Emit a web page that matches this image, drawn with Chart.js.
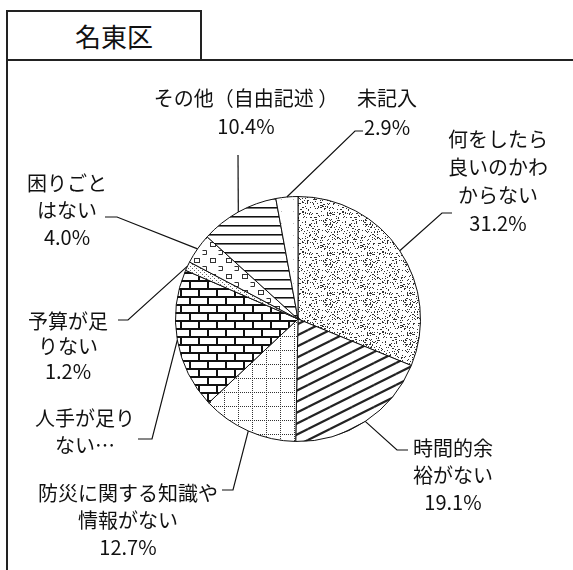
<!DOCTYPE html>
<html lang="ja">
<head>
<meta charset="utf-8">
<title>名東区</title>
<script src="https://cdn.jsdelivr.net/npm/chart.js@4.4.1/dist/chart.umd.min.js"></script>
<style>
  html, body { margin: 0; padding: 0; background: #fff; }
  body { width: 573px; height: 570px; position: relative; overflow: hidden;
         font-family: "Noto Sans CJK JP", "Noto Sans", sans-serif; }
  .frame { position: absolute; left: 6px; top: 59px; width: 620px; height: 600px;
           border-left: 2px solid #222; border-top: 2px solid #222; }
  .title { position: absolute; left: 6px; top: 10px; width: 172px; height: 47px; padding-left: 20px;
           border: 2px solid #222; background: #fff; text-align: center; line-height: 47px;
           font-size: 26px; color: #111; }
  #pie { position: absolute; left: 0; top: 0; }
</style>
</head>
<body>
<div class="frame"></div>
<div class="title">名東区</div>
<canvas id="pie" width="573" height="570"></canvas>

<script>
// data (clockwise from 12 o'clock)
const categories = ['何をしたら良いのかわからない', '時間的余裕がない', '防災に関する知識や情報がない',
  '人手が足りない', '予算が足りない', '困りごとはない', 'その他（自由記述）', '未記入'];
const values = [31.2, 19.1, 12.7, 18.5, 1.2, 4.0, 10.4, 2.9];
const labelLines = [
  ['何をしたら', '良いのかわ', 'からない'],
  ['時間的余', '裕がない'],
  ['防災に関する知識や', '情報がない'],
  ['人手が足り', 'ない…'],
  ['予算が足', 'りない'],
  ['困りごと', 'はない'],
  ['その他（自由記述 ）'],
  ['未記入']
];

// where each label and its leader line sit on the page
const labelPos = [
  { x: 498, y: 139, step: 28, elbow: [442, 213], end: [452, 213] },
  { x: 453, y: 448, step: 27, elbow: [397, 450], end: [408, 450] },
  { x: 128, y: 493, step: 27, elbow: [233, 490], end: [222, 490] },
  { x: 85,  y: 418, step: 27, elbow: [152, 439], end: [138, 439], pct: false },
  { x: 68,  y: 321, step: 25, elbow: [128, 320], end: [118, 320] },
  { x: 67,  y: 183, step: 27, elbow: [117, 217], end: [105, 217] },
  { x: 246, y: 98,  step: 28, elbow: [238, 155] },
  { x: 387, y: 98,  step: 29, elbow: [355, 131], end: [363, 131] }
];

function tile(w, h, paint) {
  const c = document.createElement('canvas');
  c.width = w;
  c.height = h;
  const g = c.getContext('2d');
  g.fillStyle = '#fff';
  g.fillRect(0, 0, w, h);
  paint(g, w, h);
  return g.createPattern(c, 'repeat');
}

// gray stipple
const stipple = tile(40, 40, (g, w, h) => {
  g.fillStyle = '#333';
  for (let y = 0; y < h; y++) {
    for (let x = 0; x < w; x++) {
      const v = Math.sin(x * 12.9898 + y * 78.233) * 43758.5453;
      if (v - Math.floor(v) < 0.17) g.fillRect(x, y, 1, 1);
    }
  }
});

// shallow "/" hatch
const hatch = tile(22, 11, (g, w, h) => {
  g.strokeStyle = '#222';
  g.lineWidth = 2.2;
  for (const dx of [-w, 0, w]) {
    for (const dy of [-h, 0, h]) {
      g.beginPath();
      g.moveTo(dx, h + dy);
      g.lineTo(w + dx, dy);
      g.stroke();
    }
  }
});

// dotted grid
const grid = tile(14, 14, (g, w, h) => {
  g.fillStyle = '#333';
  for (let i = 0; i < w; i += 2) g.fillRect(i, 0, 1, 1);
  for (let j = 0; j < h; j += 2) g.fillRect(0, j, 1, 1);
});

// bricks
const brick = tile(18, 16, (g) => {
  g.fillStyle = '#111';
  g.fillRect(0, 0, 18, 2);
  g.fillRect(0, 8, 18, 2);
  g.fillRect(0, 0, 2, 8);
  g.fillRect(9, 8, 2, 8);
});

// light dots
const lightDots = tile(4, 4, (g) => {
  g.fillStyle = '#666';
  g.fillRect(0, 0, 1, 1);
  g.fillRect(2, 2, 1, 1);
});

// small glyph-like marks
const marks = tile(16, 16, (g) => {
  g.strokeStyle = '#333';
  g.lineWidth = 1;
  g.strokeRect(2.5, 2.5, 5, 4);
  g.beginPath();
  g.moveTo(10.5, 10.5); g.lineTo(14.5, 10.5); g.lineTo(14.5, 14.5); g.lineTo(10.5, 14.5);
  g.stroke();
});

// horizontal lines
const hlines = tile(8, 9, (g) => {
  g.fillStyle = '#111';
  g.fillRect(0, 0, 8, 1);
  g.fillStyle = '#777';
  g.fillRect(0, 1, 8, 1);
});

// nearly white
const blank = tile(12, 12, (g) => {
  g.fillStyle = '#bbb';
  g.fillRect(5, 7, 1, 1);
});

const patterns = [stipple, hatch, grid, brick, lightDots, marks, hlines, blank];

const leaderLabels = {
  id: 'leaderLabels',
  afterDatasetsDraw(chart) {
    const g = chart.ctx;
    const arcs = chart.getDatasetMeta(0).data;
    g.save();
    g.strokeStyle = '#111';
    g.lineWidth = 1.2;
    g.fillStyle = '#111';
    g.font = '20px "Noto Sans CJK JP"';
    g.textAlign = 'center';
    g.textBaseline = 'middle';
    arcs.forEach((arc, i) => {
      const p = arc.getProps(['x', 'y', 'startAngle', 'endAngle', 'outerRadius'], true);
      const mid = (p.startAngle + p.endAngle) / 2;
      const L = labelPos[i];
      g.beginPath();
      g.moveTo(p.x + Math.cos(mid) * p.outerRadius, p.y + Math.sin(mid) * p.outerRadius);
      g.lineTo(L.elbow[0], L.elbow[1]);
      if (L.end) g.lineTo(L.end[0], L.end[1]);
      g.stroke();
      const lines = labelLines[i].slice();
      if (L.pct !== false) lines.push(values[i].toFixed(1) + '%');
      lines.forEach((t, k) => g.fillText(t, L.x, L.y + k * L.step));
    });
    g.restore();
  }
};

const drawChart = function () {
  const ctx = document.getElementById('pie').getContext('2d');
  new Chart(ctx, {
    type: 'pie',
    data: {
      labels: categories,
      datasets: [{
        data: values,
        backgroundColor: patterns,
        borderColor: '#111',
        borderWidth: 1,
        hoverOffset: 0
      }]
    },
    options: {
      responsive: false,
      animation: false,
      layout: { padding: { left: 175, right: 152, top: 196, bottom: 128 } },
      plugins: {
        legend: { display: false },
        tooltip: { enabled: false }
      }
    },
    plugins: [leaderLabels]
  });
};

drawChart();
</script>
</body>
</html>
